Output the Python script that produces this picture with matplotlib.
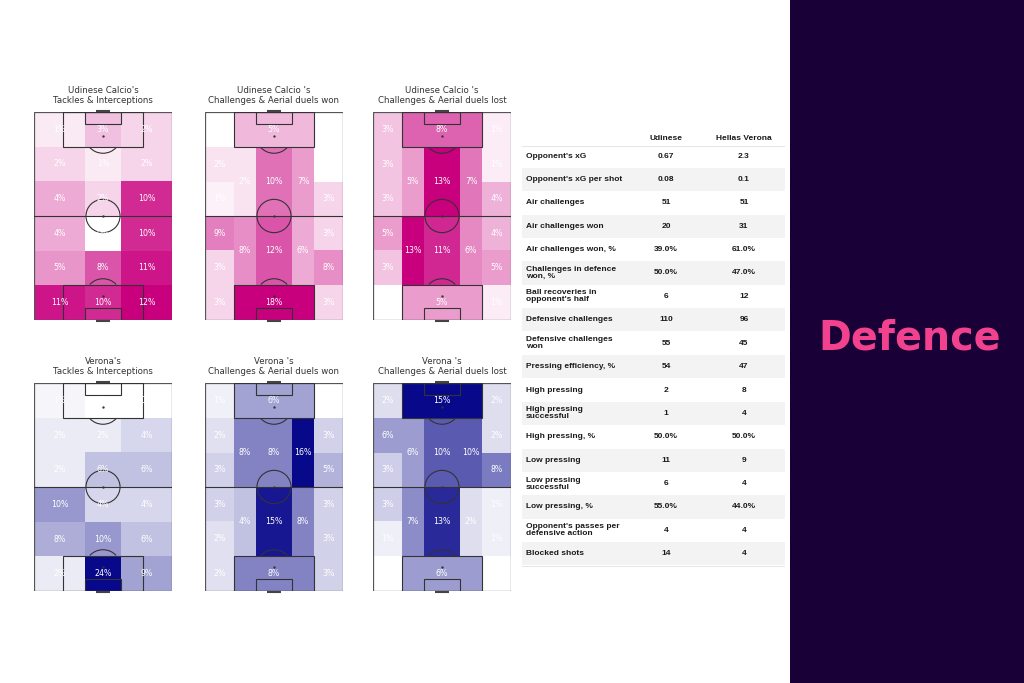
import matplotlib
matplotlib.use('Agg')
import matplotlib.pyplot as plt
from matplotlib.patches import Rectangle, Circle, Arc
from matplotlib.colors import LinearSegmentedColormap, Normalize

W, H = 1024, 683

# Tackles & interceptions: 6 rows (top -> bottom) x 3 columns (left, centre, right), in %
udi_tackles = [[1, 3, 2],
               [2, 1, 2],
               [4, 2, 10],
               [4, 0, 10],
               [5, 8, 11],
               [11, 10, 12]]
ver_tackles = [[1, 0, 0],
               [2, 2, 4],
               [2, 6, 6],
               [10, 4, 4],
               [8, 10, 6],
               [2, 24, 9]]

# Positional zones (20), order:
# wingL r1, box top, wingR r1, wingL r2, wingR r2, wingL r3, wingR r3,
# halfspaceL top, centre top, halfspaceR top,
# wingL r4, wingR r4, wingL r5, wingR r5,
# halfspaceL bottom, centre bottom, halfspaceR bottom,
# wingL r6, box bottom, wingR r6
udi_won = [0, 5, 0, 2, 0, 1, 3, 2, 10, 7, 9, 3, 3, 8, 8, 12, 6, 3, 18, 3]
udi_lost = [3, 8, 1, 3, 1, 3, 4, 5, 13, 7, 5, 4, 3, 5, 13, 11, 6, 0, 5, 1]
ver_won = [1, 6, 0, 2, 3, 3, 5, 8, 8, 16, 3, 3, 2, 3, 4, 15, 8, 2, 8, 3]
ver_lost = [2, 15, 2, 6, 2, 3, 8, 6, 10, 10, 3, 1, 1, 1, 7, 13, 2, 0, 6, 0]

titles = ["Udinese Calcio's\nTackles & Interceptions",
          "Udinese Calcio 's\nChallenges & Aerial duels won",
          "Udinese Calcio 's\nChallenges & Aerial duels lost",
          "Verona's\nTackles & Interceptions",
          "Verona 's\nChallenges & Aerial duels won",
          "Verona 's\nChallenges & Aerial duels lost"]

stat_labels = ["Opponent's xG", "Opponent's xG per shot", "Air challenges",
               "Air challenges won", "Air challenges won, %",
               "Challenges in defence\nwon, %", "Ball recoveries in\nopponent's half",
               "Defensive challenges", "Defensive challenges\nwon",
               "Pressing efficiency, %", "High pressing", "High pressing\nsuccessful",
               "High pressing, %", "Low pressing", "Low pressing\nsuccessful",
               "Low pressing, %", "Opponent's passes per\ndefensive action",
               "Blocked shots"]
udinese_vals = ['0.67', '0.08', '51', '20', '39.0%', '50.0%', '6', '110', '55',
                '54', '2', '1', '50.0%', '11', '6', '55.0%', '4', '14']
verona_vals = ['2.3', '0.1', '51', '31', '61.0%', '47.0%', '12', '96', '45',
               '47', '8', '4', '50.0%', '9', '4', '44.0%', '4', '4']

PL, PW = 105.0, 68.0  # pitch length / width in metres
LC = '#333333'

# zone geometry in fractions (x0, x1, y0, y1), y measured from the top
cx = [0, 0.211, 0.368, 0.632, 0.789, 1]
ry = [0, 0.17, 0.335, 0.5, 0.665, 0.83, 1]
pos_zones = [
    (cx[0], cx[1], ry[0], ry[1]), (cx[1], cx[4], ry[0], ry[1]), (cx[4], cx[5], ry[0], ry[1]),
    (cx[0], cx[1], ry[1], ry[2]), (cx[4], cx[5], ry[1], ry[2]),
    (cx[0], cx[1], ry[2], ry[3]), (cx[4], cx[5], ry[2], ry[3]),
    (cx[1], cx[2], ry[1], ry[3]), (cx[2], cx[3], ry[1], ry[3]), (cx[3], cx[4], ry[1], ry[3]),
    (cx[0], cx[1], ry[3], ry[4]), (cx[4], cx[5], ry[3], ry[4]),
    (cx[0], cx[1], ry[4], ry[5]), (cx[4], cx[5], ry[4], ry[5]),
    (cx[1], cx[2], ry[3], ry[5]), (cx[2], cx[3], ry[3], ry[5]), (cx[3], cx[4], ry[3], ry[5]),
    (cx[0], cx[1], ry[5], ry[6]), (cx[1], cx[4], ry[5], ry[6]), (cx[4], cx[5], ry[5], ry[6]),
]
tcx = [0, 0.368, 0.632, 1]


def grid_zones(vals):
    zones = []
    for r, row in enumerate(vals):
        for c, v in enumerate(row):
            zones.append((tcx[c], tcx[c + 1], r / 6, (r + 1) / 6, v))
    return zones


def draw_pitch(ax):
    kw = dict(color=LC, lw=0.8, zorder=3)
    ax.add_patch(Rectangle((0, 0), PW, PL, fill=False, ec='#555555', lw=0.9, zorder=3))
    ax.plot([0, PW], [PL / 2, PL / 2], **kw)
    ax.add_patch(Circle((PW / 2, PL / 2), 8.4, fill=False, ec=LC, lw=0.8, zorder=3))
    ax.plot(PW / 2, PL / 2, 'o', ms=0.7, color=LC, zorder=3)
    bw, bd = 0.578 * PW, 0.17 * PL
    sw, sd = 0.264 * PW, 0.058 * PL
    spot = 0.115 * PL
    for top in (True, False):
        y0 = PL - bd if top else 0
        ax.add_patch(Rectangle(((PW - bw) / 2, y0), bw, bd, fill=False, ec=LC, lw=0.8, zorder=3))
        y1 = PL - sd if top else 0
        ax.add_patch(Rectangle(((PW - sw) / 2, y1), sw, sd, fill=False, ec=LC, lw=0.8, zorder=3))
        sy = PL - spot if top else spot
        ax.plot(PW / 2, sy, 'o', ms=0.7, color=LC, zorder=3)
        if top:
            ax.add_patch(Arc((PW / 2, sy), 17.5, 17.5, theta1=222, theta2=318, ec=LC, lw=0.8, zorder=3))
        else:
            ax.add_patch(Arc((PW / 2, sy), 17.5, 17.5, theta1=42, theta2=138, ec=LC, lw=0.8, zorder=3))
        gy = PL + 0.3 if top else -0.3
        ax.plot([0.452 * PW, 0.548 * PW], [gy, gy], color='#444444', lw=1.5, clip_on=False, zorder=3,
                solid_capstyle='butt')


def heat_pitch(rect, zones, cmap, title):
    x, y, w, h = rect
    ax = fig.add_axes([x / W, 1 - (y + h) / H, w / W, h / H])
    ax.set_xlim(0, PW)
    ax.set_ylim(0, PL)
    ax.axis('off')
    norm = Normalize(0, max(z[4] for z in zones))
    for x0, x1, t0, t1, v in zones:
        ax.add_patch(Rectangle((x0 * PW, PL * (1 - t1)), (x1 - x0) * PW, (t1 - t0) * PL,
                               fc=cmap(norm(v)), ec='none', zorder=1))
        ax.text((x0 + x1) / 2 * PW, PL * (1 - (t0 + t1) / 2), f'{v}%', ha='center', va='center',
                fontsize=5.7, color='white', zorder=4)
    draw_pitch(ax)
    ax.text(0.5, 1.035, title, transform=ax.transAxes, ha='center', va='bottom',
            fontsize=6.2, color='#333333', linespacing=1.15)


fig = plt.figure(figsize=(W / 100, H / 100), dpi=100)
fig.patch.set_facecolor('white')

pink = LinearSegmentedColormap.from_list('pink', ['#ffffff', '#c8007e'])
navy = LinearSegmentedColormap.from_list('navy', ['#ffffff', '#08088a'])

heat_pitch((34, 112, 138, 208), grid_zones(udi_tackles), pink, titles[0])
heat_pitch((205, 112, 138, 208), [z + (v,) for z, v in zip(pos_zones, udi_won)], pink, titles[1])
heat_pitch((373, 112, 138, 208), [z + (v,) for z, v in zip(pos_zones, udi_lost)], pink, titles[2])
heat_pitch((34, 383, 138, 208), grid_zones(ver_tackles), navy, titles[3])
heat_pitch((205, 383, 138, 208), [z + (v,) for z, v in zip(pos_zones, ver_won)], navy, titles[4])
heat_pitch((373, 383, 138, 208), [z + (v,) for z, v in zip(pos_zones, ver_lost)], navy, titles[5])

# stats table, drawn in pixel coordinates
tx0, tx1, ty0, ty1 = 522, 785, 128, 573
tab = fig.add_axes([tx0 / W, 1 - ty1 / H, (tx1 - tx0) / W, (ty1 - ty0) / H])
tab.set_xlim(tx0, tx1)
tab.set_ylim(ty1, ty0)
tab.axis('off')
tfont = dict(family='Liberation Sans', fontweight='bold', fontsize=6.0, color='#1a1a1a')
rh = 23.4
tab.text(666, 139, 'Udinese', ha='center', va='center', **tfont)
tab.text(744, 139, 'Hellas Verona', ha='center', va='center', **tfont)
tab.plot([tx0, tx1], [146, 146], color='#e2e2e2', lw=0.6)
for i, (lab, uv, vv) in enumerate(zip(stat_labels, udinese_vals, verona_vals)):
    yc = 156 + rh * i
    if i % 2 == 1:
        tab.add_patch(Rectangle((tx0, yc - rh / 2), tx1 - tx0, rh, fc='#f3f3f3', ec='none'))
    tab.text(526, yc, lab, ha='left', va='center', linespacing=1.0, **tfont)
    tab.text(666, yc, uv, ha='center', va='center', **tfont)
    tab.text(744, yc, vv, ha='center', va='center', **tfont)
tab.plot([tx0, tx1], [156 + rh * 17.5, 156 + rh * 17.5], color='#e2e2e2', lw=0.6)

# right side panel
fig.add_artist(Rectangle((790 / W, 0), (W - 790) / W, 1, transform=fig.transFigure,
                         fc='#190036', ec='none'))
fig.text(910 / W, 1 - 339 / H, 'Defence', ha='center', va='center', fontsize=28.5,
         fontweight='bold', color='#f2418f', family='DejaVu Sans')

fig.savefig('out.png', dpi=100, facecolor='white')
